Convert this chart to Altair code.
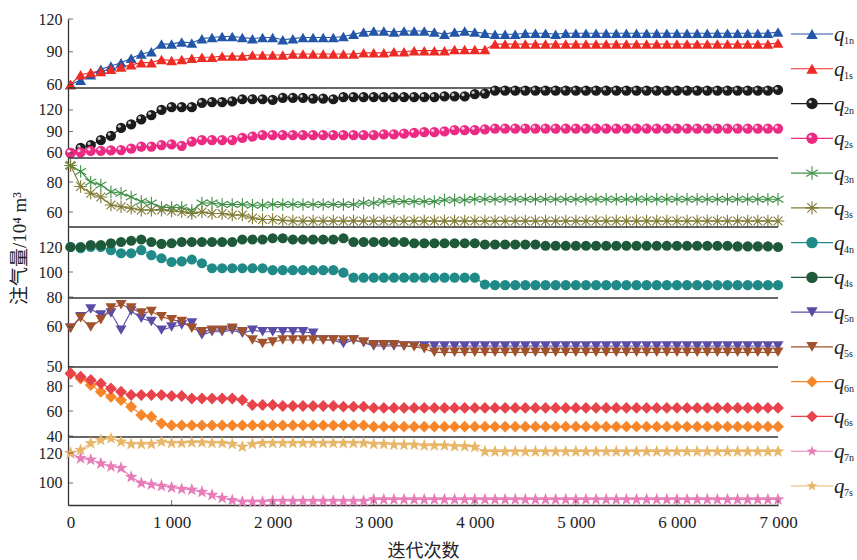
import altair as alt
import pandas as pd

# ---------------- data ----------------
ITER = list(range(0, 7001, 100))
X_TICKS = [0, 1000, 2000, 3000, 4000, 5000, 6000, 7000]
X_DOMAIN = [-25, 7000]

SERIES = ["q1n", "q1s", "q2n", "q2s", "q3n", "q3s", "q4n", "q4s",
          "q5n", "q5s", "q6n", "q6s", "q7n", "q7s"]
SUBS = ["1n", "1s", "2n", "2s", "3n", "3s", "4n", "4s",
        "5n", "5s", "6n", "6s", "7n", "7s"]

q1n = [60, 64, 69, 74, 77, 80, 84, 88, 90, 97,
       97, 99, 98, 102, 103, 104, 104, 103, 102, 103,
       103, 101, 102, 103, 103, 103, 103, 104, 106, 108,
       109, 109, 108, 109, 109, 109, 108, 106, 108, 109,
       108, 107, 106, 106, 106, 107, 107, 107, 106, 107,
       107, 107, 107, 107, 107, 107, 107, 107, 107, 107,
       107, 107, 107, 107, 107, 107, 107, 107, 107, 107, 108]
q1s = [60, 69, 71, 72, 74, 76, 78, 80, 80, 83,
       82, 83, 84, 85, 85, 86, 86, 86, 87, 87,
       87, 87, 88, 88, 88, 88, 88, 88, 88, 89,
       89, 89, 90, 90, 91, 91, 91, 91, 92, 92,
       92, 92, 97, 97, 97, 97, 97, 97, 97, 97,
       97, 97, 97, 97, 97, 97, 97, 97, 97, 97,
       97, 97, 97, 97, 97, 97, 97, 97, 97, 97, 98]
q2n = [60, 67, 71, 78, 84, 95, 100, 107, 113, 120,
       124, 124, 124, 130, 131, 131, 132, 135, 135, 135,
       134, 137, 137, 137, 136, 136, 135, 138, 138, 138,
       138, 138, 138, 138, 138, 138, 138, 139, 139, 139,
       142, 143, 147, 147, 147, 147, 147, 147, 147, 147,
       147, 147, 147, 147, 147, 147, 147, 147, 147, 147,
       147, 147, 147, 147, 147, 147, 147, 147, 147, 147, 148]
q2s = [60, 61, 63, 63, 63.5, 64, 66, 69, 69, 71,
       72, 70, 76, 78, 78, 78, 78, 81, 83, 85,
       85, 85, 85, 85, 85, 85, 85, 85, 85, 85,
       85, 86, 86, 87, 88, 89, 89, 90, 92, 92,
       92, 93, 94, 94, 94, 94, 94, 94, 94, 94,
       94, 94, 94, 94, 94, 94, 94, 94, 94, 94,
       94, 94, 94, 94, 94, 94, 94, 94, 94, 94, 94]
q3n = [91, 87, 80, 78, 73.5, 72.5, 70, 67, 66, 63,
       63, 63, 61, 66, 66, 65, 65, 65, 64.5, 64.5,
       65, 65, 65, 65, 65, 65, 65, 65, 65, 66,
       66, 67, 67, 67, 67, 67, 67, 68, 68, 68,
       68.5, 68.5, 68.5, 68.5, 68.5, 68.5, 68.5, 68.5, 68.5, 68.5,
       68.5, 68.5, 68.5, 68.5, 68.5, 68.5, 68.5, 68.5, 68.5, 68.5,
       68.5, 68.5, 68.5, 68.5, 68.5, 68.5, 68.5, 68.5, 68.5, 68.5, 68.5]
q3s = [91, 77, 72.5, 70, 64.7, 63.5, 62.5, 61.3, 61.3, 61.3,
       60.7, 60.2, 59, 60, 59, 59, 58, 58, 56, 55,
       55, 54.5, 54, 54, 54, 54, 54, 54, 54, 54,
       54, 54, 54, 54, 54, 54, 54, 54, 54, 54,
       54, 54, 54, 54, 54, 54, 54, 54, 54, 54,
       54, 54, 54, 54, 54, 54, 54, 54, 54, 54,
       54, 54, 54, 54, 54, 54, 54, 54, 54, 54, 54]
q4n = [120, 119, 120, 120, 117.5, 115, 115, 117.5, 113.5, 111,
       108, 108.5, 110, 107, 103, 103, 103, 103, 103, 103,
       101.5, 101.5, 101.5, 101.5, 101.5, 101.5, 101.5, 99.5, 95.5, 95.5,
       95.5, 95.5, 95.5, 95.5, 95.5, 95.5, 95.5, 95.5, 95.5, 95.5,
       95.5, 90, 89.5, 89.5, 89.5, 89.5, 89.5, 89.5, 89.5, 89.5,
       89.5, 89.5, 89.5, 89.5, 89.5, 89.5, 89.5, 89.5, 89.5, 89.5,
       89.5, 89.5, 89.5, 89.5, 89.5, 89.5, 89.5, 89.5, 89.5, 89.5, 89.5]
q4s = [120, 120, 121.5, 121.5, 123, 124, 125, 126, 124, 122.5,
       123, 124, 124, 124, 124, 124, 124, 126, 126, 126,
       127, 127, 126, 126, 126, 126, 126, 127, 124, 124,
       124, 124, 124, 124, 123, 123, 123, 123, 123, 123,
       123, 122, 122, 122, 122, 122, 122, 121, 121, 121,
       121, 121, 121, 121, 121, 121, 121, 121, 121, 121,
       121, 121, 121, 121, 121, 121, 120.5, 120.5, 120.5, 120.5, 120]
q5n = [59.7, 62.6, 64.5, 63, 63.5, 59.2, 64, 62.2, 61.4, 59.2,
       60, 60.5, 61, 58, 58.8, 58.8, 59.2, 58.4, 59.2, 58.8,
       58.8, 58.8, 58.8, 58.8, 58.4, 56.7, 56.7, 55.8, 56.7, 56,
       55.2, 55.2, 55.2, 55.2, 55.2, 55.2, 55.2, 55.2, 55.2, 55.2,
       55.2, 55.2, 55.2, 55.2, 55.2, 55.2, 55.2, 55.2, 55.2, 55.2,
       55.2, 55.2, 55.2, 55.2, 55.2, 55.2, 55.2, 55.2, 55.2, 55.2,
       55.2, 55.2, 55.2, 55.2, 55.2, 55.2, 55.2, 55.2, 55.2, 55.2, 55.2]
q5s = [59.7, 62.3, 60, 61.8, 64.8, 65.6, 64.8, 63.5, 63.9, 62.6,
       61.8, 61.4, 59.7, 58.8, 59.2, 59.2, 59.7, 58.8, 56.7, 55.8,
       56.2, 56.7, 56.7, 56.7, 56.7, 56.7, 56.7, 56.7, 56.7, 56.2,
       55.5, 55.5, 55.5, 55.2, 55, 54.5, 53.6, 53.6, 53.6, 53.6,
       53.6, 53.6, 53.6, 53.6, 53.6, 53.6, 53.6, 53.6, 53.6, 53.6,
       53.6, 53.6, 53.6, 53.6, 53.6, 53.6, 53.6, 53.6, 53.6, 53.6,
       53.6, 53.6, 53.6, 53.6, 53.6, 53.6, 53.6, 53.6, 53.6, 53.6, 53.6]
q6n = [90, 86, 80.8, 75.4, 71.4, 68.8, 63.4, 56.8, 55.4, 50,
       48.5, 48.5, 48.5, 48.5, 48.5, 48.5, 48.5, 48.5, 48.5, 48.5,
       48.5, 48.5, 48.5, 48.5, 48.5, 48.5, 48.5, 48.5, 48.5, 48.5,
       47.5, 47.5, 47.5, 47.5, 47.5, 47.5, 47.5, 47.5, 47.5, 47.5,
       47.5, 47.5, 47.5, 47.5, 47.5, 47.5, 47.5, 47.5, 47.5, 47.5,
       47.5, 47.5, 47.5, 47.5, 47.5, 47.5, 47.5, 47.5, 47.5, 47.5,
       47.5, 47.5, 47.5, 47.5, 47.5, 47.5, 47.5, 47.5, 47.5, 47.5, 47.5]
q6s = [90, 87.4, 84.8, 82, 78, 75.4, 72.8, 72.8, 72.8, 72.8,
       72, 72, 70, 70, 70, 70, 70, 68.8, 64.8, 64.8,
       64.8, 64, 64, 64, 64, 64, 64, 63.5, 63.5, 63.5,
       62.5, 62.5, 62.5, 62.5, 62.5, 62.5, 62.5, 62.5, 62.5, 62.5,
       62.5, 62.5, 62.5, 62.5, 62.5, 62.5, 62.5, 62.5, 62.5, 62.5,
       62.5, 62.5, 62.5, 62.5, 62.5, 62.5, 62.5, 62.5, 62.5, 62.5,
       62.5, 62.5, 62.5, 62.5, 62.5, 62.5, 62.5, 62.5, 62.5, 62.5, 62.5]
q7n = [120, 116.5, 115.5, 113, 111, 110, 104, 100, 99, 98,
       97, 96, 95.5, 94, 92, 90, 88.5, 87.5, 87.5, 87.5,
       88, 88, 88, 88, 88, 88, 88, 88, 88, 88,
       89, 89, 89, 89, 89, 89, 89, 89, 89, 89,
       89, 89, 89, 89, 89, 89, 89, 89, 89, 89,
       89, 89, 89, 89, 89, 89, 89, 89, 89, 89,
       89, 89, 89, 89, 89, 89, 89, 89, 89, 89, 89]
q7s = [119.8, 122, 126.5, 128.7, 129.8, 127.5, 126, 126, 126, 127.5,
       126.7, 126.7, 127, 127, 126.7, 126.7, 126, 124.2, 126, 126.7,
       126.7, 126.7, 126.7, 126.7, 126.7, 126.7, 126.7, 126.7, 126.7, 126.7,
       126, 126, 125.5, 125.5, 125.5, 125, 125, 125, 124.5, 124.5,
       124, 121, 121, 121, 121, 121, 121, 121, 121, 121,
       121, 121, 121, 121, 121, 121, 121, 121, 121, 121,
       121, 121, 121, 121, 121, 121, 121, 121, 121, 121, 121]

VALUES = {"q1n": q1n, "q1s": q1s, "q2n": q2n, "q2s": q2s, "q3n": q3n, "q3s": q3s,
          "q4n": q4n, "q4s": q4s, "q5n": q5n, "q5s": q5s, "q6n": q6n, "q6s": q6s,
          "q7n": q7n, "q7s": q7s}

PANEL_DOMAINS = [[56.8, 120], [53, 150.7], [50, 96], [79.2, 136],
                 [49.9, 67.3], [39.2, 95.2], [85.3, 130.7]]
PANEL_TICKS = [[60, 90, 120], [60, 90, 120], [60, 80], [80, 100, 120],
               [50, 60], [40, 60, 80], [100, 120]]

# ---------------- styles / layout ----------------
PANEL_RANGES = [[69, 0], [139, 69], [208, 139], [279, 208],
                [348, 279], [418, 348], [486, 418]]
COLORS = ["#2356a8", "#ee2a24", "#1c1c1c", "#ec2a84", "#3f8f47", "#7f7b35",
          "#1f8a88", "#1e5a3a", "#5a4ca6", "#a0522d", "#f7862a", "#e8434b",
          "#e77db8", "#e8b668"]
STAR = ("M0,-1L0.235,-0.324L0.951,-0.309L0.38,0.124L0.588,0.809L0,0.4"
        "L-0.588,0.809L-0.38,0.124L-0.951,-0.309L-0.235,-0.324Z")
AST6 = "M0,-1L0,1M-0.87,-0.5L0.87,0.5M-0.87,0.5L0.87,-0.5"
AST8 = "M0,-1L0,1M-1,0L1,0M-0.7,-0.7L0.7,0.7M-0.7,0.7L0.7,-0.7"
SHAPES = ["triangle-up", "triangle-up", "circle", "circle", AST6, AST8,
          "circle", "circle", "triangle-down", "triangle-down",
          "diamond", "diamond", STAR, STAR]
PANEL_SIZES = [120, 105, 160, 105, 120, 140, 180]
SERIF = "Liberation Serif"
CJK = "Liberation Serif, Noto Sans CJK SC"
AX = "#333333"

cscale = alt.Scale(domain=SERIES, range=COLORS)
sscale = alt.Scale(domain=SERIES, range=SHAPES)
xs = alt.Scale(domain=X_DOMAIN, nice=False, zero=False)


def make_panel(k):
    n, s = SERIES[2 * k], SERIES[2 * k + 1]
    df = pd.DataFrame({"iter": ITER * 2, "val": VALUES[n] + VALUES[s],
                       "series": [n] * len(ITER) + [s] * len(ITER)})
    ys = alt.Scale(domain=PANEL_DOMAINS[k], range=PANEL_RANGES[k], nice=False, zero=False)
    yax_kw = dict(values=PANEL_TICKS[k], orient="left", ticks=False, tickSize=0,
                  labelPadding=6, labelFont=SERIF, labelFontSize=16, labelColor="#222",
                  labelFlush=False, labelOverlap=False, domainColor=AX, domainWidth=1.3,
                  grid=False, title=None)
    if k == 3:
        yax_kw.update(title="注气量/10⁴ m³", titleFont=CJK, titleFontSize=19,
                      titleFontWeight="normal", titleColor="#222", titleAngle=270,
                      titleX=-49, titleY=229, titleAlign="center", titleBaseline="middle")
    yaxis = alt.Axis(**yax_kw)
    if k == 6:
        xaxis = alt.Axis(values=X_TICKS, ticks=False, tickSize=0, labelPadding=9,
                         labelExpr="replace(format(datum.value, ','), ',', ' ')",
                         labelFont=SERIF, labelFontSize=17, labelColor="#222",
                         labelFlush=False, domainColor=AX, domainWidth=1.3, grid=False,
                         title="迭代次数", titleFont=CJK, titleFontSize=18,
                         titleFontWeight="normal", titleColor="#222", titlePadding=12)
    else:
        xaxis = None
    X = lambda f: alt.X(f, scale=xs, axis=xaxis)
    Y = lambda f: alt.Y(f, scale=ys, axis=yaxis)
    color = alt.Color("series:N", scale=cscale, legend=None)
    base = alt.Chart(df).encode(x=X("iter:Q"), y=Y("val:Q"), color=color)
    line = base.mark_line(strokeWidth=1.1)
    filled = k != 2
    pts = base.mark_point(filled=filled, size=PANEL_SIZES[k], opacity=1,
                          strokeWidth=1.1).encode(
        shape=alt.Shape("series:N", scale=sscale, legend=None))
    layers = [line, pts]
    if k == 1:
        hl = base.mark_point(filled=True, size=10, opacity=0.75,
                             xOffset=-1.7, yOffset=-1.7).encode(color=alt.value("white"))
        layers.append(hl)
    # inward y ticks
    ytk = pd.DataFrame({"t": PANEL_TICKS[k], "x0": [X_DOMAIN[0]] * len(PANEL_TICKS[k])})
    layers.append(alt.Chart(ytk).mark_tick(orient="horizontal", size=5, thickness=1,
                                           xOffset=2.5, color=AX)
                  .encode(x=X("x0:Q"), y=Y("t:Q")))
    if k < 6:
        sep = pd.DataFrame({"x0": [X_DOMAIN[0]], "x1": [X_DOMAIN[1]], "y": [PANEL_DOMAINS[k][0]]})
        layers.append(alt.Chart(sep).mark_rule(color=AX, strokeWidth=1.3)
                      .encode(x=X("x0:Q"), x2="x1:Q", y=Y("y:Q")))
    else:
        xtk = pd.DataFrame({"t": X_TICKS[1:], "y0": [PANEL_DOMAINS[k][0]] * (len(X_TICKS) - 1)})
        layers.append(alt.Chart(xtk).mark_tick(orient="vertical", size=5, thickness=1,
                                               yOffset=-2.5, color=AX)
                      .encode(x=X("t:Q"), y=Y("y0:Q")))
    return alt.layer(*layers)


panels = [make_panel(k) for k in range(7)]

# ---------------- legend ----------------
leg = pd.DataFrame({"series": SERIES, "sub": SUBS,
                    "a": [0] * 14, "b": [1] * 14, "m": [0.5] * 14})
lx = alt.Scale(domain=[0, 1], range=[723, 765])
ly = alt.Scale(type="point", domain=SERIES, range=[15, 467], padding=0)
LX = lambda f: alt.X(f, scale=lx, axis=None)
LY = alt.Y("series:N", scale=ly, axis=None)
lcol = alt.Color("series:N", scale=cscale, legend=None)
lshape = alt.Shape("series:N", scale=sscale, legend=None)
lbase = alt.Chart(leg)
leg_line = lbase.mark_rule(strokeWidth=1.2).encode(x=LX("a:Q"), x2="b:Q", y=LY, color=lcol)
leg_pts = lbase.transform_filter("indexof(['q3n','q3s'], datum.series) < 0").mark_point(
    filled=True, size=130, opacity=1).encode(x=LX("m:Q"), y=LY, color=lcol, shape=lshape)
leg_ast = lbase.transform_filter("indexof(['q3n','q3s'], datum.series) >= 0").mark_point(
    filled=False, size=180, opacity=1, strokeWidth=1.1).encode(x=LX("m:Q"), y=LY, color=lcol, shape=lshape)
leg_hl = lbase.transform_filter("indexof(['q2n','q2s'], datum.series) >= 0").mark_point(
    filled=True, size=10, opacity=0.75, xOffset=-1.8, yOffset=-1.8).encode(
    x=LX("m:Q"), y=LY, color=alt.value("white"))
leg_q = lbase.mark_text(text="q", font=SERIF, fontStyle="italic", fontSize=21,
                        align="left", baseline="middle", dx=1, dy=1, color="#222").encode(
    x=LX("b:Q"), y=LY)
leg_sub = lbase.mark_text(font=SERIF, fontSize=10, align="left", baseline="middle",
                          dx=11, dy=7, color="#222").encode(x=LX("b:Q"), y=LY, text="sub:N")
legend = alt.layer(leg_line, leg_pts, leg_ast, leg_hl, leg_q, leg_sub)

chart = alt.layer(*panels, legend).resolve_scale(
    x="independent", y="independent"
).properties(
    width=710, height=486,
    autosize=alt.AutoSizeParams(type="none"),
    padding={"left": 68, "top": 19, "right": 79, "bottom": 55},
    background="white",
).configure_view(strokeWidth=0)

chart.save("out.html", embed_options={"renderer": "svg", "actions": False})
